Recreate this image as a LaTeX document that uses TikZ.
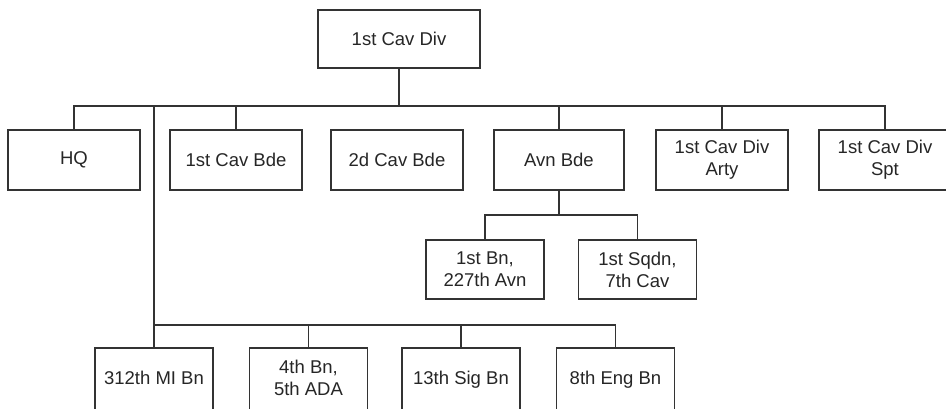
\documentclass[tikz,border=0pt]{standalone}
\usepackage{fontspec}
\setmainfont{Liberation Sans}
\begin{document}
\begin{tikzpicture}[x=1pt,y=1pt,
  line/.style={draw=black!80, line width=1.3pt},
  box/.style={line, rectangle, inner sep=0pt, align=center,
    font=\fontsize{18.5}{22}\selectfont, text=black!85, minimum height=60pt},
  wbox/.style={box, minimum width=132pt},
  nbox/.style={box, minimum width=118pt}]
\useasboundingbox (0,0) rectangle (946,-408);
\clip (0,0) rectangle (946,-408);
\fill[white] (0,0) rectangle (946,-408);
% top
\node[box, minimum width=162pt, minimum height=58pt] (div) at (399,-39) {1st Cav Div};
% second row
\node[wbox] (hq)   at (74,-160)  {HQ};
\node[wbox] (cbA)  at (236,-160) {1st Cav Bde};
\node[wbox] (cbB)  at (397,-160) {2d Cav Bde};
\node[box, minimum width=130pt] (avn) at (559,-160) {Avn Bde};
\node[wbox] (arty) at (722,-160) {1st Cav Div\\Arty};
\node[wbox] (spt)  at (885,-160) {1st Cav Div\\Spt};
% aviation brigade units
\node[nbox, minimum height=59pt] (avnbn) at (485,-269.5) {1st Bn,\\227th Avn};
\node[nbox, minimum height=59pt] (sqdn)  at (637.5,-269.5) {1st Sqdn,\\7th Cav};
% bottom row (boxes run off the lower edge)
\node[nbox, minimum height=64pt] (mi)  at (154,-380)   {\raisebox{4pt}{312th MI Bn}};
\node[nbox, minimum height=64pt] (ada) at (308.5,-380) {\raisebox{4pt}{\begin{tabular}{@{}c@{}}4th Bn,\\5th ADA\end{tabular}}};
\node[nbox, minimum height=64pt] (sig) at (461,-380)   {\raisebox{4pt}{13th Sig Bn}};
\node[nbox, minimum height=64pt] (eng) at (615.5,-380) {\raisebox{4pt}{8th Eng Bn}};
% connectors
\coordinate (bus) at (0,-106);
\coordinate (busB) at (0,-325);
\coordinate (busA) at (0,-215);
\draw[line] (div.south) -- (div.south |- bus);
\draw[line] (hq.north) -- (hq.north |- bus) -- (spt.north |- bus) -- (spt.north);
\draw[line] (cbA.north) -- (cbA.north |- bus);
\draw[line] (avn.north) -- (avn.north |- bus);
\draw[line] (arty.north) -- (arty.north |- bus);
\draw[line] (mi.north) -- (mi.north |- bus);
\draw[line] (mi.north |- busB) -- (eng.north |- busB) -- (eng.north);
\draw[line] (ada.north) -- (ada.north |- busB);
\draw[line] (sig.north) -- (sig.north |- busB);
\draw[line] (avn.south) -- (avn.south |- busA);
\draw[line] (avnbn.north) -- (avnbn.north |- busA) -- (sqdn.north |- busA) -- (sqdn.north);
\end{tikzpicture}
\end{document}
